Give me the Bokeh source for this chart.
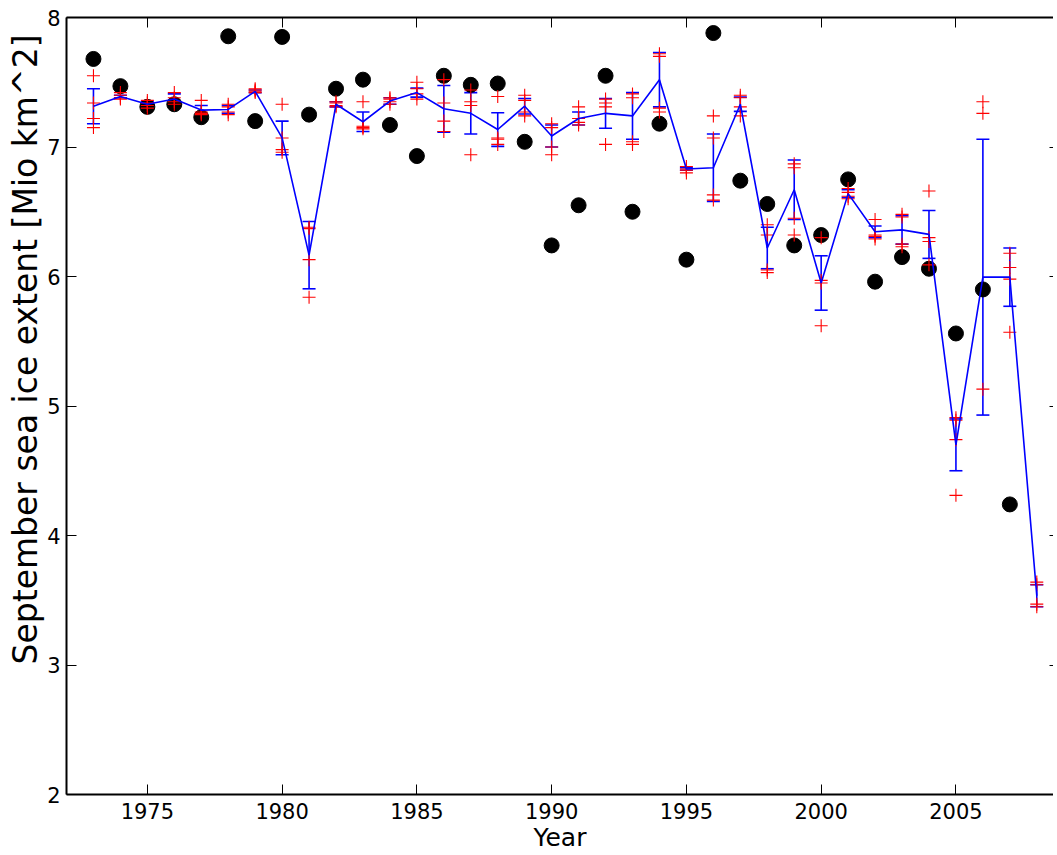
import math
from bokeh.plotting import figure
from bokeh.models import ColumnDataSource, Whisker, TeeHead, LinearAxis, FixedTicker, Range1d, Title
from bokeh.embed import file_html
from bokeh.resources import INLINE

nan = float("nan")

years = list(range(1973, 2009))

# observed September extent (black dots)
observed = [7.68, 7.47, 7.31, 7.33, 7.23, 7.855, 7.20, 7.85, 7.25, 7.45,
            7.52, 7.17, 6.93, 7.55, 7.48, 7.49, 7.04, 6.24, 6.55, 7.55,
            6.50, 7.18, 6.13, 7.88, 6.74, 6.56, 6.24, 6.32, 6.75, 5.96,
            6.15, 6.06, 5.56, 5.90, 4.24, nan]

# ensemble members (red crosses)
member1 = [7.55, 7.42, 7.36, 7.42, 7.36, 7.33, 7.45, 7.33, 6.38, 7.35,
           7.35, 7.38, 7.50, 7.52, 7.44, 7.39, 7.40, 7.18, 7.31, 7.37,
           7.41, 7.72, 6.85, 7.24, 7.40, 6.40, 6.87, 6.30, 6.68, 6.44,
           6.48, 6.66, 4.91, 7.35, 6.18, 3.64]
member2 = [7.34, 7.40, 7.34, 7.38, 7.27, 7.31, 7.44, 7.07, 6.37, 7.34,
           7.16, 7.37, 7.45, 7.34, 7.35, 7.07, 7.36, 7.15, 7.22, 7.34,
           7.38, 7.70, 6.83, 7.07, 7.38, 6.32, 6.84, 5.97, 6.65, 6.32,
           6.46, 6.30, 4.89, 7.26, 6.07, 3.62]
member3 = [7.22, 7.38, 7.32, 7.35, 7.26, 7.27, 7.43, 6.98, 6.13, 7.32,
           7.15, 7.35, 7.41, 7.20, 7.32, 7.06, 7.27, 7.00, 7.19, 7.31,
           7.04, 7.30, 6.82, 6.63, 7.31, 6.05, 6.45, 5.95, 6.62, 6.31,
           6.25, 6.27, 4.74, 5.13, 5.98, 3.47]
member4 = [7.15, 7.37, 7.30, 7.33, 7.25, 7.25, 7.42, 6.96, 5.84, 7.31,
           7.14, 7.33, 7.37, 7.12, 6.94, 7.02, 7.24, 6.94, 7.17, 7.02,
           7.02, 7.27, 6.80, 6.59, 7.24, 6.03, 6.32, 5.62, 6.60, 6.29,
           6.23, 6.09, 4.31, nan, 5.57, 3.45]

# ensemble mean and spread (blue line with error bars)
ens_mean = [7.315, 7.39, 7.33, 7.37, 7.285, 7.29, 7.43, 7.07, 6.165, 7.33,
            7.195, 7.355, 7.42, 7.295, 7.26, 7.135, 7.315, 7.085, 7.22, 7.26,
            7.24, 7.52, 6.83, 6.84, 7.33, 6.22, 6.67, 5.95, 6.64, 6.345,
            6.36, 6.325, 4.70, 5.995, 5.995, 3.535]
ens_err = [0.135, 0.01, 0.02, 0.04, 0.035, 0.03, 0.01, 0.13, 0.26, 0.02,
           0.075, 0.025, 0.035, 0.18, 0.16, 0.13, 0.06, 0.085, 0.05, 0.115,
           0.18, 0.21, 0.01, 0.26, 0.055, 0.16, 0.23, 0.21, 0.03, 0.045,
           0.11, 0.185, 0.20, 1.065, 0.225, 0.085]

x_ticks = [1975, 1980, 1985, 1990, 1995, 2000, 2005]
y_ticks = [2, 3, 4, 5, 6, 7, 8]

FONT = "DejaVu Sans"

p = figure(frame_width=987, frame_height=777,
           x_range=Range1d(1972, 2008.62), y_range=Range1d(2, 8),
           output_backend="svg", toolbar_location=None,
           min_border_left=66, min_border_right=0, min_border_top=17, min_border_bottom=0,
           background_fill_color="white", border_fill_color="white")
p.outline_line_color = None
p.xgrid.visible = False
p.ygrid.visible = False

for ax in (p.xaxis[0], p.yaxis[0]):
    ax.axis_line_width = 2
    ax.axis_line_color = "black"
    ax.major_tick_in = 10
    ax.major_tick_out = 0
    ax.major_tick_line_width = 1
    ax.minor_tick_line_color = None
    ax.major_label_text_font = FONT
    ax.major_label_text_font_size = "21px"
    ax.major_label_text_color = "black"
    ax.axis_label_text_font = FONT
    ax.axis_label_text_font_size = "25px"
    ax.axis_label_text_font_style = "normal"
    ax.axis_label_text_color = "black"

p.xaxis[0].ticker = FixedTicker(ticks=x_ticks)
p.yaxis[0].ticker = FixedTicker(ticks=y_ticks)
p.xaxis[0].axis_label = "Year"
p.xaxis[0].major_label_standoff = 8
p.xaxis[0].axis_label_standoff = 1
p.yaxis[0].major_label_standoff = 6

top = LinearAxis(ticker=FixedTicker(ticks=x_ticks), axis_line_width=2,
                 major_tick_in=10, major_tick_out=0, minor_tick_line_color=None,
                 major_label_text_font_size="1px", major_label_text_color=None,
                 major_label_standoff=0)
p.add_layout(top, "above")
right = LinearAxis(ticker=FixedTicker(ticks=y_ticks), axis_line_color=None,
                   major_tick_in=4, major_tick_out=0, minor_tick_line_color=None,
                   major_label_text_font_size="1px", major_label_text_color=None,
                   major_label_standoff=0)
p.add_layout(right, "right")

# y-axis title, starting above the bottom of the frame like the reference
ylab = Title(text="September sea ice extent [Mio km^2]", align="left", offset=130,
             text_font=FONT, text_font_size="33px", text_font_style="normal",
             text_color="black", standoff=0)
p.add_layout(ylab, "left")

# observed dots
p.scatter(years, observed, marker="circle", size=15, fill_color="black", line_color="black")

# ensemble members
for m in (member1, member2, member3, member4):
    p.scatter(years, m, marker="cross", size=13, line_color="#ff0000", line_width=1.1)

# ensemble mean with error bars
upper = [m + e for m, e in zip(ens_mean, ens_err)]
lower = [m - e for m, e in zip(ens_mean, ens_err)]
src = ColumnDataSource(dict(x=years, y=ens_mean, upper=upper, lower=lower))
p.line("x", "y", source=src, line_color="#0000ff", line_width=1.6)
w = Whisker(base="x", upper="upper", lower="lower", source=src, dimension="height",
            line_color="#0000ff", line_width=1.6,
            upper_head=TeeHead(size=13, line_color="#0000ff", line_width=1.6),
            lower_head=TeeHead(size=13, line_color="#0000ff", line_width=1.6))
p.add_layout(w)

open("out.html", "w").write(file_html(p, INLINE))
